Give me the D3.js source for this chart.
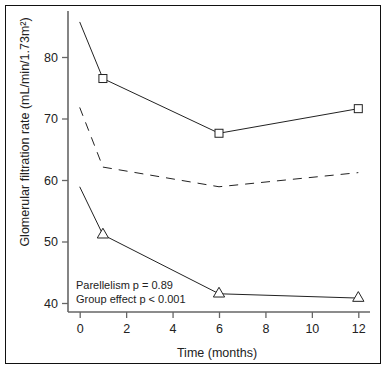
<!DOCTYPE html>
<html><head><meta charset="utf-8">
<script src="https://cdn.jsdelivr.net/npm/d3@7"></script>
<style>body{margin:0;background:#fff}svg{display:block}text{font-family:"Liberation Sans",Arial,sans-serif;fill:#222}</style>
</head><body><svg id="c" width="387" height="369"></svg>
<script>
const months = [0, 1, 6, 12];
const upperGroup = [85.7, 76.5, 67.6, 71.6];
const overallMean = [71.8, 62.1, 58.9, 61.2];
const lowerGroup = [58.9, 51.1, 41.5, 40.8];
const xTicks = [0, 2, 4, 6, 8, 10, 12];
const yTicks = [40, 50, 60, 70, 80];
const yLabel = "Glomerular filtration rate (mL/min/1.73m²)";
const xLabel = "Time (months)";
const notes = ["Parellelism p = 0.89", "Group effect p < 0.001"];

const svg = d3.select("#c");
svg.append("rect").attr("x",5.5).attr("y",5.5).attr("width",375).attr("height",358)
  .attr("fill","none").attr("stroke","#111").attr("stroke-width",1);

const x = d3.scaleLinear().domain([0,12]).range([79.7,358.3]);
const y = d3.scaleLinear().domain([40,80]).range([303,57]);

const axisColor = "#666";
const ya = svg.append("g").attr("transform","translate(68,0)")
  .call(d3.axisLeft(y).tickValues(yTicks).tickSize(6).tickPadding(4));
ya.select(".domain").remove();
ya.append("line").attr("x1",0).attr("x2",0).attr("y1",11).attr("y2",312).attr("stroke",axisColor).attr("stroke-width",1.6);
ya.selectAll(".tick line").attr("stroke",axisColor).attr("stroke-width",1.3);
ya.selectAll(".tick text").attr("font-size",12.5).attr("fill","#222").style("font-family","Liberation Sans, Arial, sans-serif");

const xa = svg.append("g").attr("transform","translate(0,312)")
  .call(d3.axisBottom(x).tickValues(xTicks).tickSize(6).tickPadding(6));
xa.select(".domain").remove();
xa.append("line").attr("x1",68).attr("x2",370).attr("y1",0).attr("y2",0).attr("stroke",axisColor).attr("stroke-width",1.6);
xa.selectAll(".tick line").attr("stroke",axisColor).attr("stroke-width",1.3);
xa.selectAll(".tick text").attr("font-size",12.5).attr("fill","#222").style("font-family","Liberation Sans, Arial, sans-serif");

svg.append("text").attr("transform","translate(29,132) rotate(-90)").attr("text-anchor","middle")
  .attr("font-size",12.5).text(yLabel);
svg.append("text").attr("x",217).attr("y",357).attr("text-anchor","middle").attr("font-size",12.5).text(xLabel);

const line = d3.line().x(d=>x(d[0])).y(d=>y(d[1]));
function series(vals, dash){
  svg.append("path").datum(months.map((m,i)=>[m,vals[i]])).attr("d",line)
    .attr("fill","none").attr("stroke","#222").attr("stroke-width",1).attr("stroke-dasharray",dash||null);
}
series(upperGroup);
series(overallMean,"9,7");
series(lowerGroup);

svg.selectAll(".sq").data(months.slice(1).map((m,i)=>[m,upperGroup[i+1]])).enter().append("rect")
  .attr("x",d=>x(d[0])-4).attr("y",d=>y(d[1])-4).attr("width",8).attr("height",8)
  .attr("fill","#fff").attr("stroke","#222").attr("stroke-width",1);
const tri = d3.symbol().type(d3.symbolTriangle).size(55);
svg.selectAll(".tr").data(months.slice(1).map((m,i)=>[m,lowerGroup[i+1]])).enter().append("path")
  .attr("d",tri).attr("transform",d=>`translate(${x(d[0])},${y(d[1])})`)
  .attr("fill","#fff").attr("stroke","#222").attr("stroke-width",1);

notes.forEach((t,i)=>svg.append("text").attr("x",76).attr("y",289+i*14).attr("font-size",11).text(t));
</script></body></html>
